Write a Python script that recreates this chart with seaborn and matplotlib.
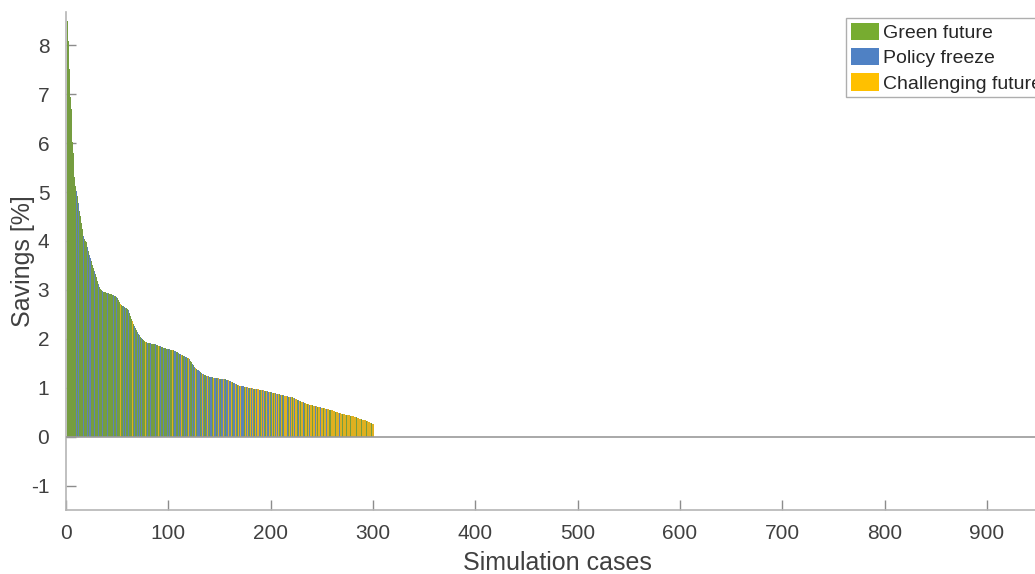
import numpy as np
import pandas as pd
import seaborn as sns
import matplotlib.pyplot as plt
from matplotlib.patches import Patch

# Savings per simulation case, sorted
savings = [
    8.49, 8.08, 7.52, 6.95, 6.70, 6.02, 5.80, 5.30, 5.12, 5.02,
    4.92, 4.78, 4.62, 4.50, 4.36, 4.24, 4.10, 4.03, 4.00, 3.97,
    3.88, 3.80, 3.72, 3.66, 3.58, 3.50, 3.44, 3.38, 3.32, 3.26,
    3.18, 3.11, 3.06, 3.02, 2.99, 2.97, 2.96, 2.95, 2.95, 2.94,
    2.94, 2.93, 2.92, 2.91, 2.90, 2.89, 2.88, 2.87, 2.86, 2.84,
    2.80, 2.75, 2.71, 2.70, 2.68, 2.66, 2.64, 2.63, 2.62, 2.61,
    2.58, 2.52, 2.46, 2.41, 2.36, 2.31, 2.26, 2.22, 2.18, 2.14,
    2.10, 2.07, 2.04, 2.02, 2.00, 1.98, 1.96, 1.94, 1.93, 1.92,
    1.92, 1.91, 1.91, 1.90, 1.90, 1.89, 1.89, 1.88, 1.87, 1.86,
    1.86, 1.85, 1.84, 1.83, 1.82, 1.82, 1.81, 1.80, 1.80, 1.79,
    1.79, 1.78, 1.78, 1.77, 1.77, 1.76, 1.75, 1.74, 1.72, 1.70,
    1.69, 1.68, 1.67, 1.66, 1.65, 1.64, 1.63, 1.62, 1.61, 1.60,
    1.58, 1.55, 1.52, 1.49, 1.46, 1.43, 1.40, 1.38, 1.36, 1.34,
    1.32, 1.30, 1.28, 1.27, 1.26, 1.25, 1.24, 1.23, 1.23, 1.22,
    1.22, 1.21, 1.21, 1.20, 1.20, 1.20, 1.19, 1.19, 1.19, 1.18,
    1.18, 1.18, 1.18, 1.17, 1.17, 1.17, 1.16, 1.16, 1.15, 1.14,
    1.13, 1.12, 1.11, 1.10, 1.09, 1.08, 1.07, 1.06, 1.05, 1.04,
    1.04, 1.03, 1.03, 1.02, 1.02, 1.01, 1.01, 1.00, 1.00, 0.99,
    0.99, 0.99, 0.98, 0.98, 0.98, 0.97, 0.97, 0.97, 0.96, 0.96,
    0.96, 0.95, 0.95, 0.94, 0.94, 0.93, 0.93, 0.92, 0.92, 0.91,
    0.91, 0.90, 0.90, 0.89, 0.89, 0.88, 0.88, 0.87, 0.87, 0.86,
    0.86, 0.85, 0.85, 0.84, 0.83, 0.83, 0.82, 0.81, 0.81, 0.80,
    0.80, 0.79, 0.78, 0.77, 0.76, 0.75, 0.74, 0.73, 0.72, 0.71,
    0.70, 0.70, 0.69, 0.68, 0.67, 0.67, 0.66, 0.65, 0.65, 0.64,
    0.64, 0.63, 0.63, 0.62, 0.62, 0.61, 0.61, 0.60, 0.60, 0.59,
    0.59, 0.58, 0.58, 0.57, 0.57, 0.56, 0.56, 0.55, 0.55, 0.54,
    0.53, 0.52, 0.51, 0.50, 0.50, 0.49, 0.48, 0.48, 0.47, 0.47,
    0.46, 0.46, 0.45, 0.45, 0.45, 0.44, 0.44, 0.43, 0.43, 0.42,
    0.42, 0.41, 0.41, 0.40, 0.39, 0.38, 0.37, 0.36, 0.35, 0.34,
    0.34, 0.33, 0.33, 0.32, 0.31, 0.30, 0.29, 0.28, 0.27, 0.26,
]

# Scenario of each case: G = Green future, P = Policy freeze, C = Challenging future
scenario_codes = (
    "GGGGGGGGGP" "GPGGGGPGGG" "PGPPGGGPGG" "GPGGGPGGGG" "PGGGGPGGPG"
    "GGCGGPGPGG" "PGGGCGPGGP" "GPGPGGGCGP" "GGPGGGPGGC" "GPGGPGGGPG"
    "PGGCGPPGGP" "GPCGGPGPGC" "PGGPGPCGPP" "GPCPGGPCPG" "PPGCPPGPCP"
    "GPPCPGPPCP" "PCGPPCPGCP" "CPPGCPCPGC" "PCPGCPCCPG" "CPCPGCPPCG"
    "PCGCPCPCGP" "CGPCCPGCPC" "GCPCCGPCGC" "CPGCCGCPCC" "GCCPCGCCPC"
    "CGCCPCCGCC" "CCGCCCPCCG" "CCCGCCCGCC" "CCCGCCCCGC" "CCCGCCCCGC"
)
scenario_names = {"G": "Green future", "P": "Policy freeze", "C": "Challenging future"}
scenario_order = ["Green future", "Policy freeze", "Challenging future"]
scenario_colors = ["#77AC30", "#4F81C4", "#FFC000"]

df = pd.DataFrame({
    "case": np.arange(1, len(savings) + 1),
    "savings": savings,
    "scenario": [scenario_names[c] for c in scenario_codes],
})

sns.set_theme(style="white")
plt.rcParams["font.family"] = ["Liberation Sans", "DejaVu Sans"]
plt.rcParams["axes.unicode_minus"] = False

fig = plt.figure(figsize=(10.35, 5.74), dpi=100)
W, H = 1035, 574
x_max = 960
ax = fig.add_axes([66 / W, 64 / H, x_max * 1.0233 / W, 498 / H])

sns.barplot(data=df, x="case", y="savings", hue="scenario", hue_order=scenario_order,
            palette=scenario_colors, native_scale=True, dodge=False, width=1,
            errorbar=None, linewidth=0, legend=False, ax=ax)

ax.axhline(0, color="#9a9a9a", lw=1.2, zorder=3)

ax.set_xlim(0, x_max)
ax.set_ylim(-1.5, 8.68)
ax.set_xticks(np.arange(0, 901, 100))
ax.set_yticks(np.arange(-1, 9, 1))

for side in ["top", "right"]:
    ax.spines[side].set_visible(False)
for side in ["left", "bottom"]:
    ax.spines[side].set_color("#b5b5b5")
    ax.spines[side].set_linewidth(1.2)

ax.tick_params(axis="both", direction="in", length=7, width=1, color="#8c8c8c",
               labelsize=15, labelcolor="#404040", bottom=True, left=True)
ax.tick_params(axis="y", pad=12)
ax.tick_params(axis="x", pad=10)

ax.set_xlabel("Simulation cases", fontsize=18, color="#404040", labelpad=6)
ax.set_ylabel("Savings [%]", fontsize=18, color="#404040")
ax.yaxis.set_label_coords(-0.032, 0.5)

handles = [Patch(facecolor=c, edgecolor="none") for c in scenario_colors]
leg = fig.legend(handles, scenario_order, loc="upper left",
                 bbox_to_anchor=(846 / W, 1 - 18 / H), bbox_transform=fig.transFigure,
                 frameon=True, fancybox=False, fontsize=14, handlelength=1.45,
                 handleheight=1.0, handletextpad=0.2, labelspacing=0.3,
                 borderpad=0.25, borderaxespad=0)
leg.get_frame().set_edgecolor("#9a9a9a")
leg.get_frame().set_linewidth(1.0)
for t in leg.get_texts():
    t.set_color("#262626")

fig.savefig("out.png", dpi=100)
